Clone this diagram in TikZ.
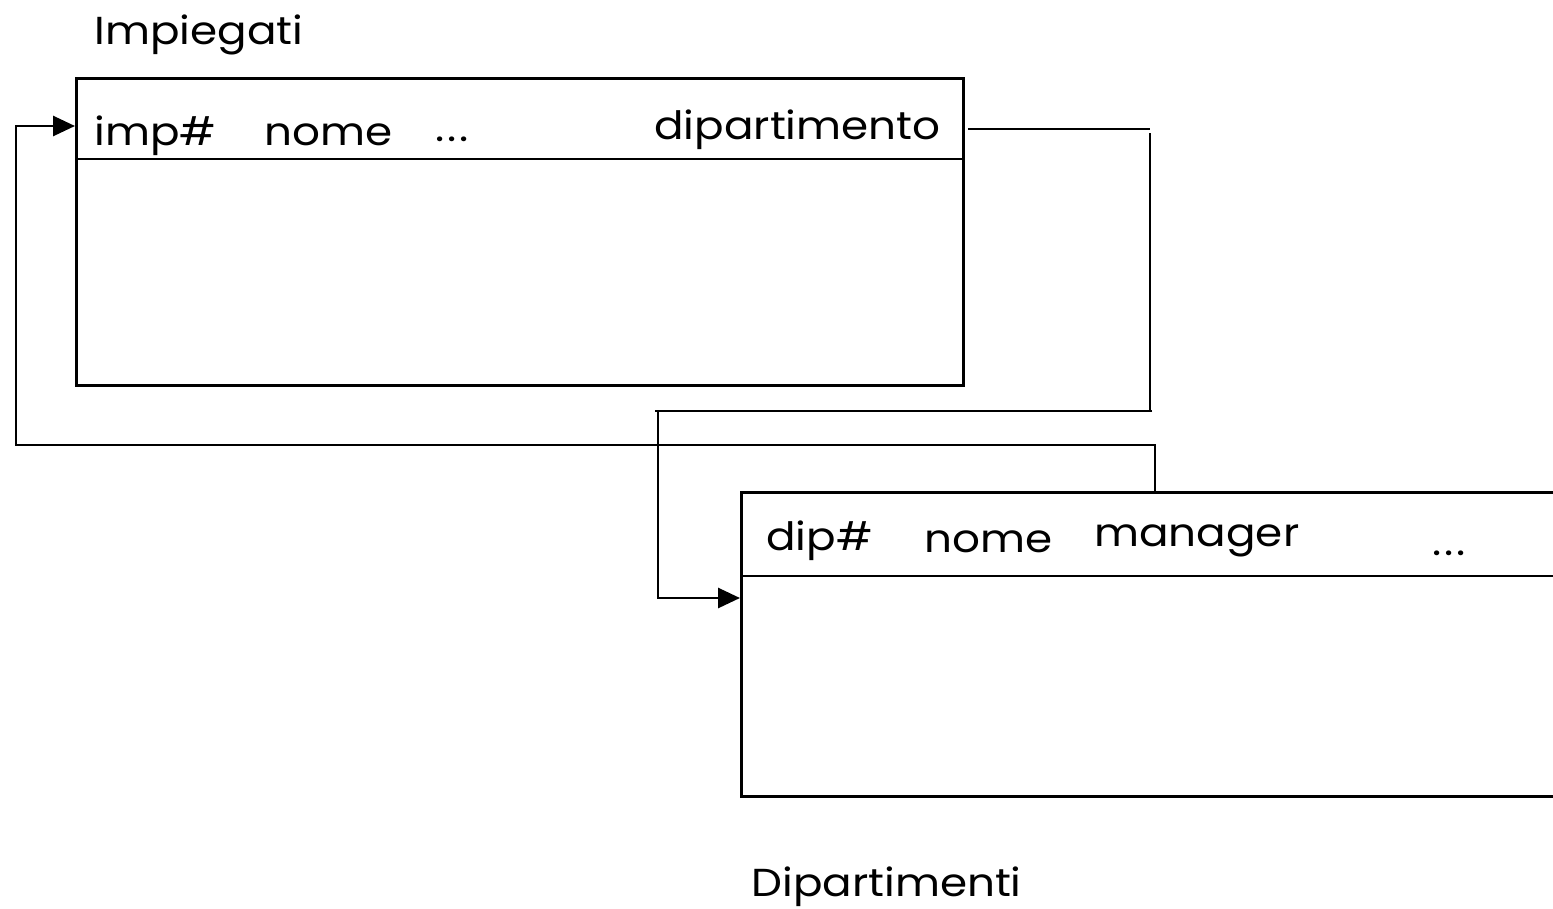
\documentclass[tikz,border=0pt]{standalone}
\usepackage{fontspec}
\setmainfont[FakeStretch=1.12]{Poppins}
\usetikzlibrary{arrows.meta}
\newcommand{\moredots}{.\kern3pt.\kern3pt.}
\begin{document}
\begin{tikzpicture}[x=1pt,y=-1pt,
  line width=2.8pt,
  table/.style={draw,line width=2.8pt,rectangle,inner sep=0pt,anchor=north west},
  lbl/.style={anchor=base west,inner sep=0pt,font=\fontsize{39}{42}\selectfont},
  link/.style={line width=2.8pt},
  tip/.style={-{Triangle[length=22pt,width=20pt]}}]
\useasboundingbox (0,0) rectangle (1553,908);

% relation Impiegati
\node[table,minimum width=887pt,minimum height=307pt] (imp) at (75,77) {};
\draw (75,159) -- (962,159);
\node[lbl] (impname) at (93,44) {Impiegati};
\node[lbl] (a1) at (93,145) {imp\#};
\node[lbl] (a2) at (263,145) {nome};
\node[lbl] (a3) at (434,141) {\moredots};
\node[lbl] (a4) at (653,139) {dipartimento};

% relation Dipartimenti (runs past the right edge)
\node[table,minimum width=900pt,minimum height=304pt] (dip) at (740,491) {};
\draw (740,576) -- (1600,576);
\node[lbl] (b1) at (765,550) {dip\#};
\node[lbl] (b2) at (923,552) {nome};
\node[lbl] (b3) at (1093,546) {manager};
\node[lbl] (b4) at (1431,555) {\moredots};
\node[lbl] (dipname) at (750,896) {Dipartimenti};

% foreign key: dipartimento -> Dipartimenti
\coordinate (f1) at (968,129);
\coordinate (f2) at (1150,129);
\coordinate (f3) at (1150,133);
\coordinate (f4) at (1150,410);
\coordinate (f5) at (1152,411);
\coordinate (f6) at (655,411);
\coordinate (f7) at (658,411);
\coordinate (f8) at (658,598);
\coordinate (f9) at (740,598);
\draw[link] (f1) -- (f2);
\draw[link] (f3) -- (f4);
\draw[link] (f5) -- (f6);
\draw[link,tip] (f7) -- (f8) -- (f9);

% foreign key: manager -> Impiegati
\coordinate (m1) at (1155,491);
\coordinate (m2) at (1155,445);
\coordinate (m3) at (16,445);
\coordinate (m4) at (16,126);
\coordinate (m5) at (75,126);
\draw[link,tip] (m1) -- (m2) -- (m3) -- (m4) -- (m5);
\end{tikzpicture}
\end{document}
